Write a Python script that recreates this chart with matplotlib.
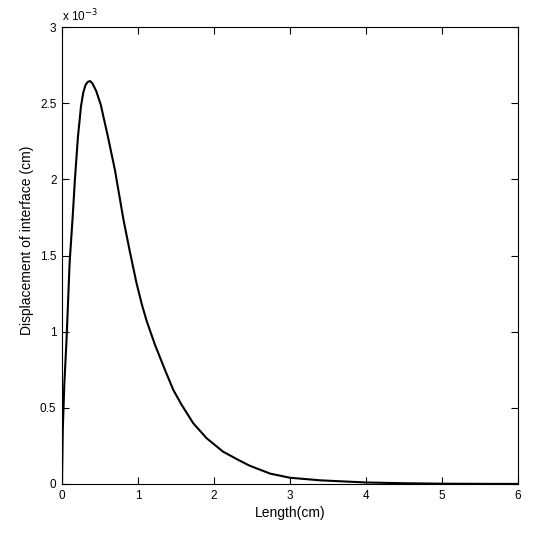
import numpy as np
import matplotlib
matplotlib.use("Agg")
import matplotlib.pyplot as plt
from matplotlib.ticker import FuncFormatter

plt.rcParams['font.family'] = ['Liberation Sans', 'DejaVu Sans']

# Length (cm)
length_cm = [0.0, 0.01, 0.03, 0.06, 0.10, 0.14, 0.17, 0.21, 0.25, 0.28, 0.31,
             0.34, 0.37, 0.40, 0.45, 0.51, 0.55, 0.60, 0.697, 0.807, 0.895,
             0.98, 1.05, 1.114, 1.224, 1.355, 1.465, 1.575, 1.728, 1.904,
             2.12, 2.32, 2.47, 2.74, 3.0, 3.4, 4.0, 4.5, 5.0, 5.5, 6.0]
# Displacement of interface (units of 1e-3 cm)
disp_e3 = [0.0, 0.35, 0.65, 0.95, 1.45, 1.75, 2.0, 2.28, 2.48, 2.57, 2.62,
           2.64, 2.645, 2.63, 2.58, 2.49, 2.40, 2.29, 2.06, 1.74, 1.52,
           1.32, 1.18, 1.07, 0.913, 0.749, 0.617, 0.519, 0.398, 0.30,
           0.212, 0.158, 0.12, 0.068, 0.041, 0.024, 0.01, 0.005, 0.002, 0.001, 0.0005]

x = np.array(length_cm)
y = np.array(disp_e3) * 1e-3

fig = plt.figure(figsize=(5.6, 5.33), dpi=100)
ax = fig.add_axes([62/560, 49/533, 456/560, 457/533])
ax.plot(x, y, color='black', linewidth=1.5)

ax.set_xlim(0, 6)
ax.set_ylim(0, 3e-3)
ax.set_xticks([0, 1, 2, 3, 4, 5, 6])
ax.set_yticks(np.arange(0, 3.01e-3, 0.5e-3))
ax.yaxis.set_major_formatter(FuncFormatter(lambda v, p: f"{v/1e-3:g}"))
ax.tick_params(direction='in', length=5, width=0.8, labelsize=8.5,
               top=True, right=True, pad=4)
for s in ax.spines.values():
    s.set_linewidth(0.8)

ax.set_xlabel("Length(cm)", fontsize=10, labelpad=3)
ax.set_ylabel("Displacement of interface (cm)", fontsize=10)
ax.yaxis.set_label_coords(-0.062, 0.534)
ax.text(0.0, 1.005, r"x 10$^{-3}$", transform=ax.transAxes, fontsize=8.5,
        ha='left', va='bottom')

fig.savefig("out.png", dpi=100)
